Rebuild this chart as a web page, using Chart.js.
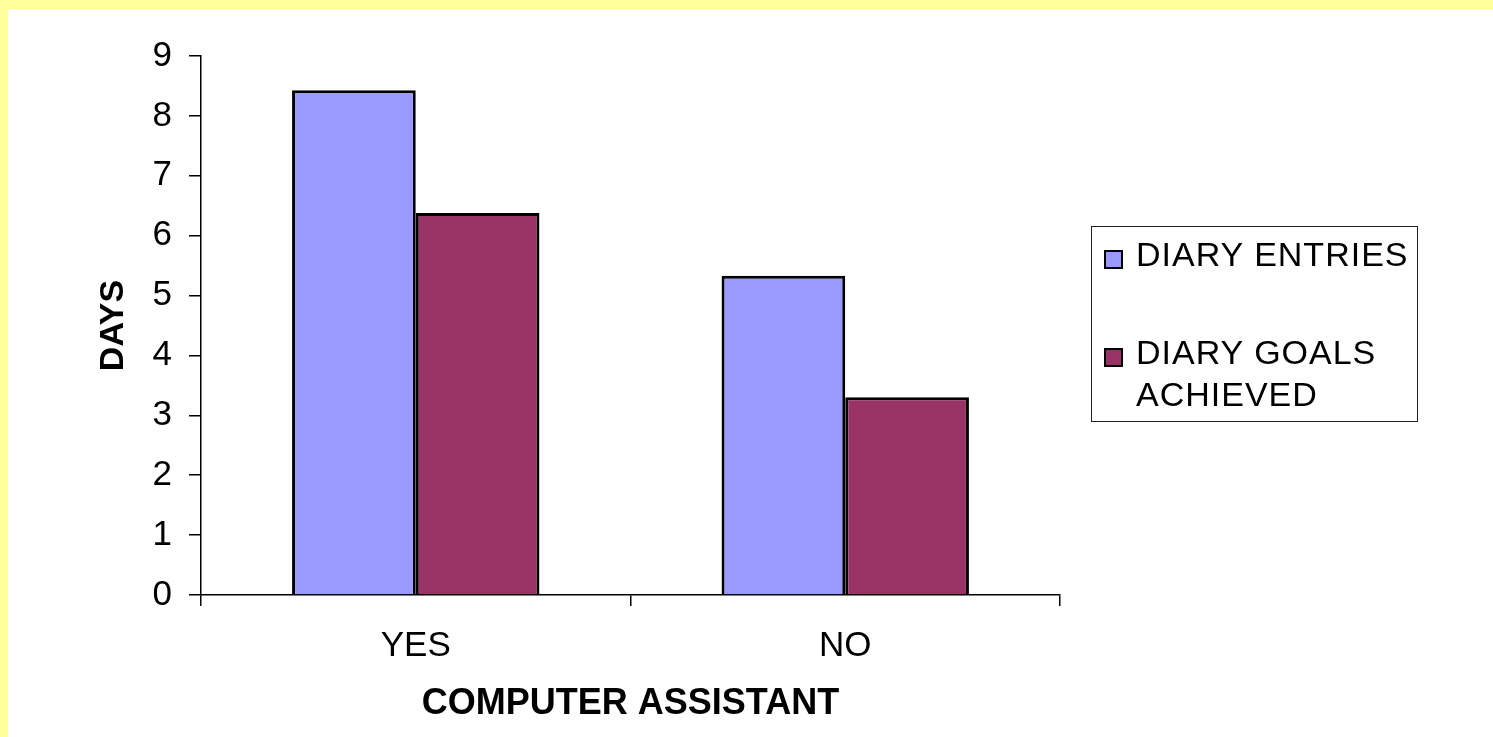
<!DOCTYPE html>
<html lang="en">
<head>
    <meta charset="UTF-8">
    <title>Diary Entries by Computer Assistant</title>
    <script src="https://cdn.jsdelivr.net/npm/chart.js"></script>
    <style>
        html, body {
            margin: 0;
            padding: 0;
            background-color: #ffff99;
            overflow: hidden;
        }
        .panel {
            position: absolute;
            left: 8px;
            top: 9px;
            width: 1485px;
            height: 728px;
            background-color: #fff;
        }
        canvas {
            display: block;
        }
        .legend {
            position: absolute;
            left: 1083px;
            top: 217px;
            width: 325px;
            height: 194px;
            border: 1.5px solid #222;
            font-family: "Liberation Sans", Arial, sans-serif;
            font-size: 34px;
            line-height: 42px;
            letter-spacing: 1px;
            color: #000;
        }
        .legend-item {
            position: absolute;
            left: 44px;
            width: 278px;
        }
        .legend-box {
            position: absolute;
            left: -32px;
            width: 15px;
            height: 15px;
            border: 2px solid #000;
        }
    </style>
</head>
<body>
<div class="panel">
    <canvas id="diaryChart" width="1485" height="728"></canvas>
    <div class="legend" id="legend"></div>
</div>

<script>
    const categories = ['YES', 'NO'];
    const seriesNames = ['DIARY ENTRIES', 'DIARY GOALS ACHIEVED'];
    const diaryEntries = [8.43, 5.33];
    const goalsAchieved = [6.38, 3.3];
    const seriesColors = ['#9999ff', '#993366'];
    const yMax = 9;

    const fontFamily = '"Liberation Sans", Arial, sans-serif';

    // HTML legend, two entries stacked in a box on the right
    const legendTop = [6, 104];
    const legend = document.getElementById('legend');
    seriesNames.forEach((name, i) => {
        const item = document.createElement('div');
        item.className = 'legend-item';
        item.style.top = legendTop[i] + 'px';
        const box = document.createElement('span');
        box.className = 'legend-box';
        box.style.top = '17px';
        box.style.backgroundColor = seriesColors[i];
        item.appendChild(box);
        item.appendChild(document.createTextNode(name));
        legend.appendChild(item);
    });

    new Chart(document.getElementById('diaryChart'), {
        type: 'bar',
        data: {
            labels: categories,
            datasets: [
                {
                    label: seriesNames[0],
                    data: diaryEntries,
                    backgroundColor: seriesColors[0],
                    borderColor: '#000',
                    borderWidth: 3
                },
                {
                    label: seriesNames[1],
                    data: goalsAchieved,
                    backgroundColor: seriesColors[1],
                    borderColor: '#000',
                    borderWidth: 3
                }
            ]
        },
        options: {
            responsive: false,
            animation: false,
            layout: {
                padding: { left: 0, top: 47, right: 433, bottom: 0 }
            },
            datasets: {
                bar: {
                    categoryPercentage: 0.576,
                    barPercentage: 1.0
                }
            },
            plugins: {
                legend: { display: false },
                tooltip: { enabled: false }
            },
            scales: {
                x: {
                    afterFit: (scale) => { scale.height = 142; },
                    grid: {
                        drawOnChartArea: false,
                        drawTicks: true,
                        tickLength: 11,
                        color: '#000',
                        lineWidth: 1.5
                    },
                    border: { color: '#000', width: 1.5 },
                    ticks: {
                        color: '#000',
                        padding: 19,
                        font: { family: fontFamily, size: 35 }
                    },
                    title: {
                        display: true,
                        text: 'COMPUTER ASSISTANT',
                        color: '#000',
                        padding: { top: 0, bottom: 11 },
                        font: { family: fontFamily, size: 36, weight: 'bold' }
                    }
                },
                y: {
                    min: 0,
                    max: yMax,
                    afterFit: (scale) => { scale.width = 193; },
                    grid: {
                        drawOnChartArea: false,
                        drawTicks: true,
                        tickLength: 12,
                        color: '#000',
                        lineWidth: 1.5
                    },
                    border: { color: '#000', width: 1.5 },
                    ticks: {
                        stepSize: 1,
                        color: '#000',
                        padding: 17,
                        font: { family: fontFamily, size: 35 }
                    },
                    title: {
                        display: true,
                        text: 'DAYS',
                        color: '#000',
                        padding: { top: 85, bottom: 0 },
                        font: { family: fontFamily, size: 34, weight: 'bold' }
                    }
                }
            }
        }
    });
</script>
</body>
</html>
